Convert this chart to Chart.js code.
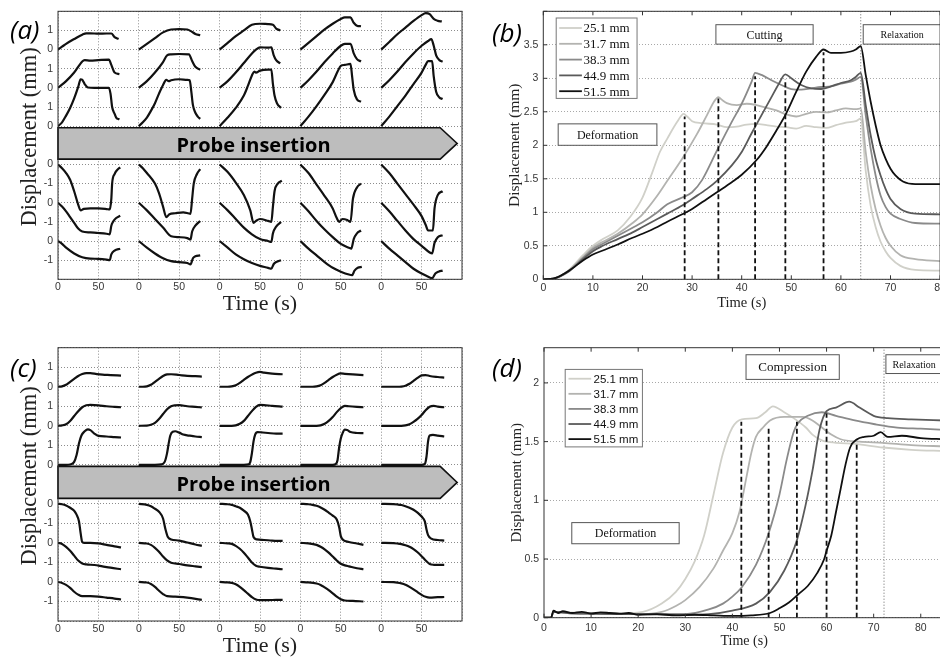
<!DOCTYPE html>
<html>
<head>
<meta charset="utf-8">
<title>Probe insertion displacement</title>
<script src="https://cdn.jsdelivr.net/npm/chart.js@4.4.1/dist/chart.umd.min.js"></script>
<style>
  html, body { margin: 0; padding: 0; background: #fff; overflow: hidden; width: 940px; height: 658px; }
  .panel { position: absolute; }
  .tag { position: absolute; font-family: 'Open Sans', sans-serif; font-style: italic; font-size: 26px; line-height: 26px; color: #000; }
</style>
</head>
<body>
<div class="panel" style="left:0;top:0;width:470px;height:320px"><canvas id="chartA"></canvas></div>
<div class="panel" style="left:470px;top:0;width:490px;height:320px"><canvas id="chartB"></canvas></div>
<div class="panel" style="left:0;top:320px;width:470px;height:338px"><canvas id="chartC"></canvas></div>
<div class="panel" style="left:470px;top:320px;width:490px;height:338px"><canvas id="chartD"></canvas></div>
<div class="tag" style="left:10px;top:16px">(a)</div>
<div class="tag" style="left:492px;top:19px">(b)</div>
<div class="tag" style="left:10px;top:354px">(c)</div>
<div class="tag" style="left:492px;top:354px">(d)</div>
<script>
// ---------- shared ----------
const depths = ['25.1 mm', '31.7 mm', '38.3 mm', '44.9 mm', '51.5 mm'];
const depthColors = ['#d0d0c9', '#b3b3b0', '#8a8a8a', '#5a5a5a', '#101010'];

// small multiples: each row is drawn on its own offset baseline
const rowBase = [12, 10, 8, 6, 4, 2];
const stackTickLabels = ['', '-1', '0', '-1', '0', '-1', '0', '', '0', '1', '0', '1', '0', '1', ''];
const colSpan = 100; // seconds per column

// ---------- (a) cutting, one column per insertion depth, [t, mm] ----------
const cutRow1 = [
  [[0,0],[5,0.15],[10,0.3],[20,0.55],[30,0.78],[35,0.85],[40,0.85],[50,0.83],[60,0.84],[66,0.84],[70,0.65],[75,0.55]],
  [[0,0],[10,0.3],[20,0.6],[30,0.9],[40,1.05],[50,1.07],[60,1.05],[65,0.95],[70,0.82],[76,0.75]],
  [[0,0],[10,0.35],[20,0.7],[30,1.0],[40,1.3],[50,1.35],[60,1.33],[66,1.3],[70,1.1],[75,1.0]],
  [[0,0],[10,0.35],[20,0.7],[30,1.05],[40,1.35],[50,1.6],[55,1.68],[62,1.68],[66,1.4],[70,1.25],[75,1.22]],
  [[0,0],[10,0.4],[20,0.8],[30,1.15],[40,1.5],[50,1.8],[55,1.9],[60,1.85],[65,1.6],[70,1.5],[75,1.47]]
];
const cutRow2 = [
  [[0,0],[10,0.35],[20,0.8],[30,1.38],[33,1.45],[40,1.42],[50,1.45],[63,1.48],[66,1.2],[70,0.8],[76,0.72]],
  [[0,0],[10,0.35],[20,0.8],[30,1.35],[35,1.7],[40,1.75],[50,1.77],[62,1.75],[66,1.4],[70,1.1],[76,0.95]],
  [[0,0],[10,0.35],[20,0.8],[30,1.3],[40,1.8],[45,2.0],[50,2.12],[60,2.1],[64,2.12],[67,1.7],[70,1.45],[75,1.28]],
  [[0,0],[10,0.4],[20,0.85],[30,1.35],[40,1.8],[50,2.2],[55,2.3],[62,2.3],[66,1.8],[70,1.5],[75,1.38]],
  [[0,0],[10,0.4],[20,0.85],[30,1.35],[40,1.8],[50,2.2],[58,2.45],[62,2.55],[65,2.2],[68,1.7],[72,1.45],[76,1.37]]
];
const cutRow3 = [
  [[0,0],[5,0.2],[10,0.55],[15,0.95],[20,1.45],[25,2.05],[28,2.45],[30,2.42],[33,2.2],[37,2.02],[45,2.0],[55,2.0],[63,2.0],[65,1.7],[67,1.0],[70,0.65],[72,0.45],[76,0.35]],
  [[0,0],[5,0.2],[10,0.45],[15,0.8],[20,1.2],[25,1.7],[30,2.15],[34,2.42],[37,2.35],[40,2.4],[50,2.45],[60,2.42],[63,2.4],[65,1.8],[67,1.1],[70,0.7],[73,0.5],[76,0.38]],
  [[0,0],[10,0.45],[20,0.95],[30,1.6],[35,2.1],[40,2.65],[43,2.85],[45,2.8],[50,2.9],[60,2.95],[64,2.95],[66,2.2],[68,1.6],[71,1.2],[76,0.95]],
  [[0,0],[10,0.5],[20,1.05],[30,1.65],[40,2.3],[46,2.85],[50,3.15],[55,3.2],[62,3.25],[64,2.6],[66,1.9],[70,1.4],[75,1.28]],
  [[0,0],[10,0.5],[20,1.05],[30,1.6],[40,2.2],[50,2.8],[55,3.2],[58,3.4],[63,3.4],[65,2.6],[68,1.8],[72,1.5],[76,1.42]]
];
const cutRow4 = [
  [[0,0],[5,-0.2],[10,-0.45],[15,-0.8],[20,-1.4],[25,-2.1],[28,-2.4],[32,-2.32],[40,-2.3],[50,-2.3],[60,-2.33],[64,-2.35],[66,-1.8],[67,-1.0],[70,-0.5],[73,-0.3],[77,-0.15]],
  [[0,0],[5,-0.2],[10,-0.45],[20,-1.0],[25,-1.5],[30,-2.2],[34,-2.75],[38,-2.6],[45,-2.55],[55,-2.5],[64,-2.58],[66,-1.8],[68,-1.0],[72,-0.5],[76,-0.25]],
  [[0,0],[10,-0.4],[20,-0.95],[30,-1.6],[38,-2.4],[42,-3.05],[45,-2.95],[50,-2.85],[60,-2.95],[64,-3.0],[66,-2.2],[68,-1.4],[72,-1.0],[77,-0.85]],
  [[0,0],[10,-0.45],[20,-1.05],[30,-1.65],[40,-2.3],[45,-2.8],[48,-3.0],[52,-2.85],[58,-2.9],[62,-3.0],[65,-1.8],[70,-1.2],[75,-1.0]],
  [[0,0],[10,-0.45],[20,-1.0],[30,-1.55],[40,-2.1],[50,-2.7],[55,-3.15],[58,-3.45],[64,-3.45],[66,-2.3],[70,-1.6],[76,-1.4]]
];
const cutRow5 = [
  [[0,0],[5,-0.2],[10,-0.45],[15,-0.75],[20,-1.05],[25,-1.35],[30,-1.5],[40,-1.55],[50,-1.58],[60,-1.62],[64,-1.65],[66,-1.2],[68,-1.0],[72,-0.8],[77,-0.68]],
  [[0,0],[10,-0.4],[20,-0.85],[30,-1.3],[40,-1.75],[50,-1.8],[60,-1.85],[64,-1.92],[66,-1.5],[70,-1.2],[76,-0.95]],
  [[0,0],[10,-0.4],[20,-0.85],[30,-1.3],[40,-1.65],[50,-1.9],[60,-2.0],[64,-2.05],[66,-1.6],[70,-1.25],[76,-1.0]],
  [[0,0],[10,-0.45],[20,-0.95],[30,-1.4],[40,-1.8],[50,-2.15],[60,-2.35],[63,-2.4],[66,-1.9],[70,-1.6],[75,-1.45]],
  [[0,0],[10,-0.45],[20,-0.95],[30,-1.45],[40,-1.9],[50,-2.25],[60,-2.6],[63,-2.65],[66,-2.1],[70,-1.8],[76,-1.7]]
];
const cutRow6 = [
  [[0,0],[5,-0.15],[10,-0.35],[20,-0.65],[30,-0.85],[40,-0.92],[50,-0.93],[60,-0.97],[64,-1.0],[66,-0.7],[70,-0.5],[77,-0.4]],
  [[0,0],[10,-0.35],[20,-0.65],[30,-0.9],[40,-1.05],[50,-1.1],[60,-1.15],[64,-1.22],[67,-0.9],[70,-0.8],[76,-0.75]],
  [[0,0],[10,-0.35],[20,-0.7],[30,-0.95],[40,-1.15],[50,-1.3],[60,-1.4],[64,-1.45],[67,-1.2],[70,-1.1],[76,-1.0]],
  [[0,0],[10,-0.4],[20,-0.75],[30,-1.1],[40,-1.4],[50,-1.6],[60,-1.75],[64,-1.78],[67,-1.55],[71,-1.4],[76,-1.35]],
  [[0,0],[10,-0.4],[20,-0.75],[30,-1.1],[40,-1.45],[50,-1.7],[60,-1.9],[63,-1.95],[67,-1.7],[71,-1.6],[76,-1.55]]
];

// ---------- (c) compression ----------
const cmpRow1 = [
  [[0,0],[5,0.02],[10,0.1],[15,0.25],[20,0.4],[25,0.55],[30,0.65],[35,0.7],[40,0.7],[48,0.65],[55,0.62],[65,0.6],[78,0.57]],
  [[0,0],[5,0],[10,0.02],[15,0.1],[20,0.25],[25,0.4],[30,0.55],[35,0.63],[40,0.64],[50,0.6],[60,0.56],[70,0.54],[78,0.52]],
  [[0,0],[10,0],[15,0.02],[20,0.08],[25,0.2],[30,0.35],[35,0.5],[40,0.62],[45,0.72],[50,0.76],[55,0.72],[65,0.67],[78,0.64]],
  [[0,0],[15,0],[20,0.02],[25,0.08],[30,0.2],[35,0.35],[40,0.5],[45,0.62],[50,0.68],[55,0.66],[65,0.63],[78,0.6]],
  [[0,0],[20,0],[25,0.01],[30,0.05],[35,0.15],[40,0.3],[45,0.45],[50,0.58],[55,0.6],[60,0.55],[70,0.5],[78,0.47]]
];
const cmpRow2 = [
  [[0,0],[5,0.02],[10,0.08],[15,0.25],[20,0.5],[25,0.75],[30,0.95],[35,1.05],[40,1.07],[50,1.05],[60,1.0],[70,0.97],[78,0.95]],
  [[0,0],[10,0.01],[15,0.05],[20,0.15],[25,0.35],[30,0.6],[35,0.85],[40,1.0],[45,1.05],[50,1.06],[60,1.0],[70,0.97],[78,0.94]],
  [[0,0],[15,0],[20,0.02],[25,0.1],[30,0.25],[35,0.5],[40,0.75],[45,0.97],[50,1.07],[55,1.06],[65,1.02],[78,0.98]],
  [[0,0],[20,0],[25,0.02],[30,0.1],[35,0.25],[40,0.45],[45,0.7],[50,0.9],[55,1.02],[60,1.0],[70,0.97],[78,0.95]],
  [[0,0],[25,0],[30,0.02],[35,0.08],[40,0.2],[45,0.35],[50,0.55],[55,0.8],[60,0.98],[65,1.02],[70,0.98],[78,0.95]]
];
const cmpRow3 = [
  [[0,0],[10,0],[15,0.02],[20,0.15],[23,0.5],[26,1.1],[29,1.5],[33,1.72],[37,1.82],[40,1.78],[45,1.6],[50,1.48],[60,1.45],[70,1.42],[78,1.4]],
  [[0,0],[20,0],[28,0.02],[32,0.15],[35,0.6],[37,1.1],[39,1.5],[42,1.7],[45,1.72],[50,1.65],[55,1.55],[62,1.5],[70,1.45],[78,1.42]],
  [[0,0],[30,0],[36,0.02],[38,0.15],[40,0.6],[42,1.2],[44,1.55],[47,1.68],[52,1.66],[60,1.63],[70,1.6],[78,1.6]],
  [[0,0],[40,0],[44,0.05],[46,0.25],[48,0.9],[50,1.35],[52,1.6],[55,1.8],[58,1.78],[62,1.68],[70,1.63],[78,1.62]],
  [[0,0],[50,0],[54,0.05],[56,0.4],[58,1.2],[60,1.5],[64,1.53],[70,1.5],[78,1.45]]
];
const cmpRow4 = [
  [[0,0],[5,-0.02],[10,-0.08],[15,-0.2],[20,-0.35],[23,-0.55],[26,-0.9],[28,-1.5],[30,-1.95],[33,-2.0],[40,-2.0],[50,-2.02],[60,-2.1],[70,-2.18],[78,-2.23]],
  [[0,0],[10,-0.05],[15,-0.12],[20,-0.25],[25,-0.4],[30,-0.75],[33,-1.3],[36,-1.7],[40,-1.82],[50,-1.88],[60,-1.98],[70,-2.08],[78,-2.15]],
  [[0,0],[10,-0.02],[15,-0.05],[20,-0.12],[25,-0.2],[30,-0.35],[35,-0.55],[38,-0.9],[40,-1.3],[42,-1.7],[46,-1.82],[55,-1.85],[65,-1.88],[78,-1.9]],
  [[0,0],[10,-0.02],[15,-0.05],[20,-0.1],[25,-0.18],[30,-0.3],[35,-0.45],[40,-0.6],[45,-0.8],[48,-1.2],[50,-1.65],[53,-1.85],[60,-1.95],[70,-2.03],[78,-2.1]],
  [[0,0],[15,-0.01],[20,-0.03],[25,-0.06],[30,-0.12],[35,-0.2],[40,-0.3],[45,-0.45],[50,-0.65],[54,-0.9],[56,-1.3],[58,-1.6],[62,-1.78],[70,-1.85],[78,-1.88]]
];
const cmpRow5 = [
  [[0,0],[5,-0.05],[10,-0.2],[15,-0.4],[20,-0.65],[25,-0.9],[30,-1.05],[35,-1.1],[45,-1.13],[55,-1.2],[65,-1.27],[78,-1.35]],
  [[0,0],[10,-0.03],[15,-0.1],[20,-0.25],[25,-0.45],[30,-0.7],[35,-0.9],[40,-1.02],[50,-1.08],[60,-1.15],[70,-1.2],[78,-1.24]],
  [[0,0],[10,-0.02],[15,-0.05],[20,-0.15],[25,-0.3],[30,-0.5],[35,-0.75],[40,-1.0],[45,-1.17],[50,-1.22],[60,-1.28],[70,-1.32],[78,-1.35]],
  [[0,0],[10,-0.02],[20,-0.1],[25,-0.2],[30,-0.33],[35,-0.5],[40,-0.7],[45,-0.9],[50,-1.07],[55,-1.15],[60,-1.2],[70,-1.3],[78,-1.35]],
  [[0,0],[15,-0.01],[20,-0.03],[25,-0.06],[30,-0.12],[35,-0.2],[40,-0.32],[45,-0.48],[50,-0.68],[55,-0.9],[60,-1.08],[65,-1.12],[78,-1.13]]
];
const cmpRow6 = [
  [[0,0],[5,-0.05],[10,-0.15],[15,-0.3],[20,-0.5],[25,-0.65],[30,-0.73],[40,-0.73],[50,-0.75],[60,-0.8],[70,-0.85],[78,-0.9]],
  [[0,0],[10,-0.03],[15,-0.1],[20,-0.25],[25,-0.45],[30,-0.62],[35,-0.73],[45,-0.75],[55,-0.78],[65,-0.83],[78,-0.92]],
  [[0,0],[10,-0.02],[15,-0.05],[20,-0.12],[25,-0.25],[30,-0.42],[35,-0.6],[40,-0.78],[45,-0.9],[50,-0.93],[60,-0.93],[70,-0.92],[78,-0.92]],
  [[0,0],[10,-0.02],[20,-0.08],[25,-0.15],[30,-0.28],[35,-0.42],[40,-0.58],[45,-0.75],[50,-0.88],[55,-0.95],[65,-0.97],[78,-1.0]],
  [[0,0],[15,-0.01],[20,-0.03],[25,-0.07],[30,-0.14],[35,-0.25],[40,-0.38],[45,-0.52],[50,-0.66],[55,-0.76],[60,-0.8],[70,-0.78],[78,-0.77]]
];

// ---------- (b) cutting traces, [t, mm] ----------
const traceCut251 = [[0,0],[2,0.01],[5,0.13],[8,0.36],[10,0.5],[12,0.6],[15,0.73],[17.5,0.93],[20,1.22],[22,1.6],[23.5,1.9],[25,2.1],[27,2.35],[28.3,2.47],[29,2.43],[30,2.36],[32,2.33],[35,2.31],[37,2.27],[39,2.28],[41,2.31],[43,2.32],[45,2.3],[47,2.28],[49,2.27],[51,2.25],[53,2.29],[55,2.27],[57,2.26],[59,2.3],[61,2.34],[63,2.36],[64,2.4],[65,1.62],[66,1.1],[67,0.78],[68,0.56],[69,0.42],[70,0.32],[72,0.2],[75,0.14],[80,0.13]];
const traceCut317 = [[0,0],[2,0.01],[5,0.12],[8,0.33],[10,0.47],[12,0.56],[15,0.68],[18,0.84],[20,0.97],[23,1.25],[25,1.47],[28,1.8],[31,2.17],[33,2.45],[34.5,2.66],[35.3,2.72],[36,2.68],[37,2.63],[39,2.6],[41,2.62],[43,2.6],[45,2.56],[47,2.52],[49,2.46],[51,2.43],[53,2.47],[55,2.5],[57,2.49],[59,2.52],[61,2.55],[63,2.54],[64,2.55],[65,1.9],[66,1.4],[67,1.05],[68,0.8],[69,0.62],[70,0.5],[72,0.36],[75,0.3],[80,0.27]];
const traceCut383 = [[0,0],[2,0.01],[5,0.12],[8,0.32],[10,0.45],[12,0.53],[15,0.65],[18,0.77],[20,0.85],[23,1.0],[25,1.12],[28,1.22],[30,1.3],[32,1.48],[35,1.92],[38,2.35],[40,2.62],[42,2.95],[42.7,3.08],[44,3.05],[46,2.97],[48,2.9],[50,2.84],[52,2.83],[54,2.85],[56,2.87],[58,2.88],[60,2.92],[62,2.95],[63,2.98],[64,3.02],[65,2.45],[66,1.95],[67,1.55],[68,1.25],[69,1.08],[70,0.98],[72,0.9],[75,0.84],[80,0.83]];
const traceCut449 = [[0,0],[2,0.01],[5,0.11],[8,0.3],[10,0.42],[12,0.5],[15,0.6],[18,0.7],[20,0.78],[23,0.9],[25,0.98],[28,1.1],[30,1.2],[33,1.35],[35,1.47],[38,1.7],[40,1.9],[42,2.18],[44,2.45],[46,2.72],[47.5,2.92],[48.8,3.06],[50,3.0],[52,2.9],[54,2.85],[56,2.84],[58,2.88],[60,2.93],[62,2.97],[63,3.02],[64,3.08],[65,2.6],[66,2.15],[67,1.8],[68,1.55],[69,1.35],[70,1.2],[72,1.05],[75,0.98],[80,0.97]];
const traceCut515 = [[0,0],[2,0.01],[5,0.12],[8,0.28],[10,0.37],[12,0.43],[15,0.52],[18,0.62],[20,0.68],[23,0.78],[25,0.86],[28,0.97],[30,1.05],[33,1.2],[35,1.3],[38,1.45],[40,1.56],[43,1.78],[45,1.98],[47,2.22],[49,2.48],[51,2.8],[53,3.1],[55,3.32],[56.5,3.43],[58,3.38],[60,3.38],[62,3.4],[63,3.43],[64,3.48],[65,3.05],[66,2.65],[67,2.3],[68,2.0],[69,1.8],[70,1.65],[71,1.55],[72.5,1.46],[75,1.42],[80,1.42]];
const cutOnsetTime = [28.5, 35.3, 42.7, 48.8, 56.5];
const cutOnsetTop = [2.43, 2.7, 3.03, 2.99, 3.39];
const cutRelaxTime = 64;

// ---------- (d) compression traces ----------
const traceCmp251 = [[0,0],[1.5,0],[2,0.05],[5,0.045],[10,0.04],[15,0.035],[21,0.05],[25,0.12],[28,0.22],[30,0.33],[32,0.48],[34,0.7],[36,1.05],[38,1.4],[40,1.62],[42,1.69],[45,1.7],[47,1.75],[48.6,1.8],[51,1.75],[53,1.7],[55.6,1.62],[57,1.56],[59,1.51],[62,1.49],[66,1.48],[72,1.45],[78,1.43],[85,1.42]];
const traceCmp317 = [[0,0],[1.5,0],[2,0.05],[5,0.04],[10,0.04],[15,0.035],[20,0.03],[25,0.05],[28,0.1],[30,0.15],[33,0.26],[36,0.42],[38,0.57],[40,0.72],[41.5,0.9],[43,1.2],[44,1.4],[45,1.54],[46.5,1.62],[48,1.68],[51,1.71],[55,1.71],[57,1.68],[59,1.62],[61,1.56],[63,1.52],[67,1.5],[72,1.49],[78,1.47],[85,1.46]];
const traceCmp383 = [[0,0],[1.5,0],[2,0.05],[5,0.04],[10,0.035],[20,0.03],[30,0.03],[35,0.07],[38,0.12],[40,0.18],[42,0.26],[45,0.45],[47.7,0.72],[50,1.05],[51.5,1.34],[53,1.58],[54,1.66],[56,1.72],[59,1.75],[62,1.72],[66,1.68],[70,1.65],[75,1.62],[80,1.61],[85,1.6]];
const traceCmp449 = [[0,0],[1.5,0],[2,0.05],[5,0.04],[10,0.035],[20,0.03],[30,0.025],[35,0.03],[40,0.06],[45,0.12],[48,0.22],[51,0.4],[53.7,0.66],[55.5,0.95],[57,1.25],[58.5,1.6],[60,1.76],[62,1.79],[64.8,1.84],[67,1.79],[70,1.72],[73,1.7],[78,1.69],[85,1.68]];
const traceCmp515 = [[0,0],[1.5,0],[2,0.06],[3,0.04],[4,0.055],[6,0.04],[8,0.05],[10,0.035],[12,0.045],[14,0.04],[16,0.035],[18,0.04],[20,0.025],[24,0.03],[28,0.02],[32,0.025],[36,0.02],[40,0.015],[44,0.02],[48,0.04],[50,0.08],[52,0.13],[54,0.2],[56,0.27],[58,0.38],[59.5,0.5],[60,0.57],[61,0.7],[62,0.9],[63,1.1],[64,1.3],[65,1.45],[66.5,1.52],[68,1.54],[70,1.55],[71.5,1.58],[73,1.54],[76,1.55],[80,1.53],[85,1.52]];
const cmpOnsetTime = [41.9, 47.7, 53.7, 60.0, 66.4];
const cmpOnsetTop = [1.67, 1.62, 1.67, 1.74, 1.48];
const cmpRelaxTime = 72.2;

// ---------- helpers ----------
const tickFont = { family: "'Liberation Sans', Arial, sans-serif", size: 10.5 };
const serif = "'Liberation Serif', 'Times New Roman', serif";
const tickColor = '#363636';

function toXY(pairs, dx, dy) {
  return pairs.map(p => ({ x: p[0] + dx, y: p[1] + dy }));
}

// Frame around the plot area, with optional inward tick marks
function framePlugin(withTicks) {
  return {
    id: 'frame',
    afterDraw(chart) {
      const { ctx, chartArea: a, scales: { x, y } } = chart;
      ctx.save();
      ctx.strokeStyle = '#333';
      ctx.lineWidth = 1;
      ctx.strokeRect(a.left, a.top, a.right - a.left, a.bottom - a.top);
      if (withTicks) {
        ctx.beginPath();
        x.ticks.forEach(t => {
          const px = x.getPixelForValue(t.value);
          ctx.moveTo(px, a.bottom); ctx.lineTo(px, a.bottom - 4);
          ctx.moveTo(px, a.top); ctx.lineTo(px, a.top + 4);
        });
        y.ticks.forEach(t => {
          const py = y.getPixelForValue(t.value);
          ctx.moveTo(a.left, py); ctx.lineTo(a.left + 4, py);
        });
        ctx.stroke();
      }
      ctx.restore();
    }
  };
}

// Grey "Probe insertion" arrow across the gap between the two groups
const arrowShape = { bodyEnd: 473, tipEnd: 494, top: 7.92, bottom: 6.28, textX: 242 };
const arrowPlugin = {
  id: 'probeArrow',
  afterDatasetsDraw(chart) {
    const { ctx, scales: { x, y } } = chart;
    const left = x.getPixelForValue(0);
    const body = x.getPixelForValue(arrowShape.bodyEnd);
    const tip = x.getPixelForValue(arrowShape.tipEnd);
    const top = y.getPixelForValue(arrowShape.top);
    const bottom = y.getPixelForValue(arrowShape.bottom);
    const mid = (top + bottom) / 2;
    ctx.save();
    ctx.beginPath();
    ctx.moveTo(left, top);
    ctx.lineTo(body, top);
    ctx.lineTo(tip, mid);
    ctx.lineTo(body, bottom);
    ctx.lineTo(left, bottom);
    ctx.closePath();
    ctx.fillStyle = '#bdbdbd';
    ctx.fill();
    ctx.lineWidth = 1.6;
    ctx.strokeStyle = '#111';
    ctx.stroke();
    ctx.fillStyle = '#000';
    ctx.font = "bold 20px 'Open Sans', sans-serif";
    ctx.textAlign = 'center';
    ctx.textBaseline = 'alphabetic';
    ctx.fillText('Probe insertion', x.getPixelForValue(arrowShape.textX), mid + 9);
    ctx.restore();
  }
};

// Text boxes and in-plot legend for the trace panels
function notesPlugin(boxes, legend) {
  return {
    id: 'notes',
    afterDatasetsDraw(chart) {
      const { ctx, scales: { x, y } } = chart;
      ctx.save();
      boxes.forEach(b => {
        const l = x.getPixelForValue(b.x0), r = x.getPixelForValue(b.x1);
        const t = y.getPixelForValue(b.y0), btm = y.getPixelForValue(b.y1);
        ctx.fillStyle = '#fff';
        ctx.fillRect(l, t, r - l, btm - t);
        ctx.strokeStyle = '#555';
        ctx.lineWidth = 1;
        ctx.strokeRect(l, t, r - l, btm - t);
        ctx.fillStyle = '#111';
        ctx.font = b.font;
        ctx.textAlign = 'center';
        ctx.textBaseline = 'middle';
        ctx.fillText(b.text, (l + r) / 2, (t + btm) / 2 + 1);
      });
      const l = x.getPixelForValue(legend.x0), r = x.getPixelForValue(legend.x1);
      const t = y.getPixelForValue(legend.y0), btm = y.getPixelForValue(legend.y1);
      ctx.fillStyle = '#fff';
      ctx.fillRect(l, t, r - l, btm - t);
      ctx.strokeStyle = '#777';
      ctx.strokeRect(l, t, r - l, btm - t);
      depths.forEach((name, i) => {
        const ry = t + legend.rowStart + i * legend.rowGap;
        ctx.strokeStyle = depthColors[i];
        ctx.lineWidth = 1.8;
        ctx.beginPath();
        ctx.moveTo(l + legend.lineFrom, ry);
        ctx.lineTo(l + legend.lineTo, ry);
        ctx.stroke();
        ctx.fillStyle = '#111';
        ctx.font = legend.font;
        ctx.textAlign = 'left';
        ctx.textBaseline = 'middle';
        ctx.fillText(name, l + legend.textAt, ry + 1);
      });
      ctx.restore();
    }
  };
}

// ---------- small-multiple panels (a) and (c) ----------
function stackDatasets(rows) {
  const sets = [];
  rows.forEach((row, r) => {
    row.forEach((pairs, c) => {
      sets.push({
        data: toXY(pairs, c * colSpan, rowBase[r]),
        borderColor: '#111',
        borderWidth: 2.2,
        pointRadius: 0,
        cubicInterpolationMode: 'monotone'
      });
    });
  });
  return sets;
}

function stackOptions(cfg) {
  return {
    responsive: true,
    maintainAspectRatio: false,
    animation: false,
    layout: { padding: { top: cfg.padTop, right: 8, bottom: 0, left: 0 } },
    plugins: { legend: { display: false }, tooltip: { enabled: false } },
    scales: {
      x: {
        type: 'linear', min: 0, max: 5 * colSpan,
        afterFit: s => { s.height = cfg.xHeight; },
        ticks: {
          stepSize: 50, padding: cfg.xTickPad, color: tickColor, font: tickFont, maxRotation: 0, autoSkip: false,
          callback: v => v >= 5 * colSpan ? '' : (v % colSpan === 0 ? '0' : '50')
        },
        grid: { color: '#8c8c8c', drawTicks: false },
        border: { display: false, dash: [1, 2] },
        title: {
          display: true, text: 'Time (s)', color: '#222',
          font: { family: serif, size: 22, lineHeight: 1 },
          padding: { top: 0, bottom: cfg.xTitlePad }
        }
      },
      y: {
        type: 'linear', min: 0, max: 14,
        afterFit: s => { s.width = 58; },
        ticks: {
          stepSize: 1, padding: 5, color: tickColor, font: tickFont, autoSkip: false,
          callback: v => stackTickLabels[v] || ''
        },
        grid: { color: '#8c8c8c', drawTicks: false },
        border: { display: false, dash: [1, 2] },
        title: {
          display: true, text: '   Displacement (mm)', color: '#222',
          font: { family: serif, size: 22.5, lineHeight: 1 },
          padding: { top: 19, bottom: 0 }
        }
      }
    }
  };
}

new Chart(document.getElementById('chartA'), {
  type: 'line',
  data: { datasets: stackDatasets([cutRow1, cutRow2, cutRow3, cutRow4, cutRow5, cutRow6]) },
  options: stackOptions({ padTop: 9, xHeight: 40.7, xTickPad: 2, xTitlePad: 5 }),
  plugins: [arrowPlugin, framePlugin(false)]
});

new Chart(document.getElementById('chartC'), {
  type: 'line',
  data: { datasets: stackDatasets([cmpRow1, cmpRow2, cmpRow3, cmpRow4, cmpRow5, cmpRow6]) },
  options: stackOptions({ padTop: 27.7, xHeight: 37, xTickPad: 2, xTitlePad: 0.5 }),
  plugins: [arrowPlugin, framePlugin(false)]
});

// ---------- trace panels (b) and (d) ----------
function traceDatasets(traces, onsetTime, onsetTop, relaxTime, yMax) {
  const sets = traces.map((pairs, i) => ({
    label: depths[i],
    data: toXY(pairs, 0, 0),
    borderColor: depthColors[i],
    borderWidth: 1.8,
    pointRadius: 0,
    cubicInterpolationMode: 'monotone',
    order: 5 - i
  }));
  onsetTime.forEach((t, i) => {
    sets.push({
      data: [{ x: t, y: 0 }, { x: t, y: onsetTop[i] }],
      borderColor: '#111', borderWidth: 1.8, borderDash: [5, 3], pointRadius: 0, order: 0
    });
  });
  sets.push({
    data: [{ x: relaxTime, y: 0 }, { x: relaxTime, y: yMax }],
    borderColor: '#666', borderWidth: 1, borderDash: [1, 2], pointRadius: 0, order: 6
  });
  return sets;
}

function traceOptions(cfg) {
  return {
    responsive: true,
    maintainAspectRatio: false,
    animation: false,
    layout: { padding: { top: cfg.padTop, right: cfg.padRight, bottom: 0, left: 0 } },
    plugins: { legend: { display: false }, tooltip: { enabled: false } },
    scales: {
      x: {
        type: 'linear', min: 0, max: cfg.xMax,
        afterFit: s => { s.height = cfg.xHeight; },
        ticks: { stepSize: 10, includeBounds: false, padding: cfg.xTickPad, color: tickColor, font: tickFont, maxRotation: 0, autoSkip: false },
        grid: { display: false, drawTicks: false },
        border: { display: false },
        title: {
          display: true, text: 'Time (s)', color: '#222',
          font: { family: serif, size: cfg.xTitleSize, lineHeight: 1 },
          padding: { top: 0, bottom: cfg.xTitlePad }
        }
      },
      y: {
        type: 'linear', min: 0, max: cfg.yMax,
        afterFit: s => { s.width = cfg.yWidth; },
        ticks: {
          stepSize: 0.5, includeBounds: false, padding: 5, color: tickColor, font: tickFont, autoSkip: false,
          callback: v => v >= 4 ? '' : String(v)
        },
        grid: { color: '#a8a8a8', drawTicks: false },
        border: { display: false, dash: [1, 2] },
        title: {
          display: true, text: 'Displacement (mm)', color: '#222',
          font: { family: serif, size: cfg.yTitleSize, lineHeight: 1 },
          padding: { top: cfg.yTitlePad, bottom: 0 }
        }
      }
    }
  };
}

const cutBoxes = [
  { text: 'Deformation', x0: 3.0, x1: 22.9, y0: 2.32, y1: 2.0, font: `12px ${serif}` },
  { text: 'Cutting', x0: 34.8, x1: 54.4, y0: 3.8, y1: 3.51, font: `12px ${serif}` },
  { text: 'Relaxation', x0: 64.5, x1: 80.2, y0: 3.8, y1: 3.51, font: `10px ${serif}` }
];
const cutLegend = { x0: 2.6, x1: 18.9, y0: 3.9, y1: 2.7, rowStart: 10, rowGap: 15.8, lineFrom: 3, lineTo: 25.7, textAt: 27.3, font: `13px ${serif}` };

new Chart(document.getElementById('chartB'), {
  type: 'line',
  data: { datasets: traceDatasets([traceCut251, traceCut317, traceCut383, traceCut449, traceCut515], cutOnsetTime, cutOnsetTop, cutRelaxTime, 4) },
  options: traceOptions({
    padTop: 9.3, padRight: 19.9, xMax: 80, yMax: 4, xHeight: 40.7, yWidth: 73.3,
    xTickPad: 3, xTitleSize: 14.5, xTitlePad: 9.4, yTitleSize: 15.5, yTitlePad: 37.2
  }),
  plugins: [notesPlugin(cutBoxes, cutLegend), framePlugin(true)]
});

const cmpBoxes = [
  { text: 'Deformation', x0: 5.9, x1: 28.7, y0: 0.81, y1: 0.63, font: `12px ${serif}` },
  { text: 'Compression', x0: 42.9, x1: 62.7, y0: 2.24, y1: 2.03, font: `13px ${serif}` },
  { text: 'Relaxation', x0: 72.6, x1: 84.6, y0: 2.24, y1: 2.08, font: `10px ${serif}` }
];
const cmpLegend = { x0: 4.5, x1: 20.9, y0: 2.115, y1: 1.455, rowStart: 9.3, rowGap: 15.1, lineFrom: 3.3, lineTo: 26, textAt: 28.3, font: "11.5px 'Liberation Sans', Arial, sans-serif" };

new Chart(document.getElementById('chartD'), {
  type: 'line',
  data: { datasets: traceDatasets([traceCmp251, traceCmp317, traceCmp383, traceCmp449, traceCmp515], cmpOnsetTime, cmpOnsetTop, cmpRelaxTime, 2.3) },
  options: traceOptions({
    padTop: 27.7, padRight: 15.7, xMax: 85, yMax: 2.3, xHeight: 40.3, yWidth: 74,
    xTickPad: 4.3, xTitleSize: 14, xTitlePad: 9.3, yTitleSize: 15, yTitlePad: 39.2
  }),
  plugins: [notesPlugin(cmpBoxes, cmpLegend), framePlugin(true)]
});
</script>
</body>
</html>
